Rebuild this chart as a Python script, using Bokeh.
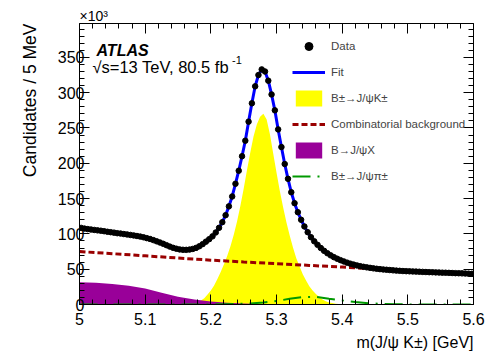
import numpy as np
from bokeh.plotting import figure
from bokeh.models import (Range1d, LinearAxis, FixedTicker, NumeralTickFormatter,
                          Label, Legend, LegendItem, Title)
from bokeh.embed import file_html
from bokeh.resources import INLINE

# ---------------- data (counts in units of 10^3 per 5 MeV) ----------------
mass_lo, mass_hi = 5.0, 5.6
bin_width = 0.005
data_counts = [
    108.5, 107.5, 106.8, 106.2, 105.6, 105.0, 104.5, 103.8, 103.0, 102.4,
    101.8, 101.0, 100.5, 99.8, 99.2, 98.5, 97.8, 97.0, 96.2, 95.2,
    94.0, 92.8, 91.2, 89.5, 87.8, 86.0, 84.0, 82.0, 80.3, 79.0,
    78.0, 77.5, 77.4, 77.8, 78.7, 80.2, 82.5, 85.5, 89.0, 92.5,
    96.5, 102.0, 108.6, 116.6, 126.5, 139.0, 153.0, 171.0, 189.5, 210.0,
    232.0, 259.0, 285.0, 309.0, 325.0, 333.0, 330.0, 317.0, 297.5, 275.0,
    248.0, 223.0, 199.0, 178.0, 159.0, 143.5, 130.7, 120.0, 110.5, 102.4,
    95.3, 89.5, 84.5, 80.0, 76.0, 72.6, 69.6, 67.0, 64.8, 62.8,
    61.0, 59.3, 57.8, 56.5, 55.3, 54.3, 53.4, 52.6, 51.9, 51.2,
    50.6, 50.1, 49.6, 49.2, 48.8, 48.4, 48.0, 47.7, 47.4, 47.2,
    47.0, 46.8, 46.6, 46.4, 46.2, 46.0, 45.8, 45.7, 45.5, 45.3,
    45.1, 45.0, 44.8, 44.6, 44.4, 44.3, 44.1, 43.9, 43.7, 43.5,
]
bin_centers = mass_lo + bin_width * (np.arange(len(data_counts)) + 0.5)

signal_mass = [5.170, 5.175, 5.180, 5.185, 5.190, 5.195, 5.200, 5.205, 5.210, 5.215,
               5.220, 5.225, 5.230, 5.235, 5.240, 5.245, 5.250, 5.255, 5.260, 5.265,
               5.270, 5.275, 5.280, 5.285, 5.290, 5.295, 5.300, 5.305, 5.310, 5.315,
               5.320, 5.325, 5.330, 5.335, 5.340, 5.345, 5.350, 5.355, 5.360, 5.365,
               5.370, 5.375, 5.380, 5.385, 5.390, 5.395, 5.400, 5.405]
signal_vals = [0.0, 1.0, 3.0, 5.5, 9.0, 14.0, 20.0, 27.0, 36.0, 46.0,
               57.0, 69.0, 83.0, 99.0, 118.0, 140.0, 164.0, 190.0, 215.0, 238.0,
               255.0, 266.0, 270.0, 262.0, 241.0, 214.0, 187.0, 161.0, 138.0, 117.0,
               98.0, 81.0, 66.0, 54.0, 43.0, 34.0, 26.0, 20.0, 15.0, 10.5,
               7.0, 4.5, 3.0, 2.0, 1.2, 0.6, 0.2, 0.0]

comb_mass = [5.00, 5.05, 5.10, 5.15, 5.20, 5.25, 5.30, 5.35, 5.40, 5.45, 5.50, 5.55, 5.60]
comb_vals = [75.0, 72.0, 68.9, 65.8, 62.8, 60.2, 57.8, 55.4, 53.0, 50.6, 47.8, 45.4, 43.4]

bx_mass = [5.000, 5.025, 5.050, 5.075, 5.100, 5.125, 5.150, 5.175, 5.200, 5.225,
           5.250, 5.275, 5.300, 5.350, 5.400, 5.500, 5.600]
bx_vals = [31.5, 30.8, 29.2, 26.5, 22.5, 16.5, 11.0, 7.0, 4.3, 2.6,
           1.4, 0.7, 0.35, 0.1, 0.05, 0.0, 0.0]

pi_mass = [5.00, 5.10, 5.18, 5.20, 5.22, 5.24, 5.26, 5.28, 5.30, 5.32, 5.34,
           5.36, 5.38, 5.40, 5.42, 5.44, 5.46, 5.48, 5.50, 5.55, 5.60]
pi_vals = [0.0, 0.0, 0.05, 0.15, 0.4, 0.8, 1.5, 2.8, 5.0, 8.0, 10.5,
           10.8, 8.0, 5.8, 3.4, 1.8, 0.9, 0.4, 0.15, 0.02, 0.0]

legend_labels = ["Data", "Fit", "B±→J/ψK±", "Combinatorial background", "B→J/ψX", "B±→J/ψπ±"]

x_major_ticks = [5.0, 5.1, 5.2, 5.3, 5.4, 5.5, 5.6]
x_minor_ticks = [round(5.0 + 0.02 * i, 2) for i in range(31)]
y_major_ticks = [0, 50, 100, 150, 200, 250, 300, 350]
y_minor_ticks = [10 * i for i in range(40)]

# ---------------- figure ----------------
FONT = "Liberation Sans"
p = figure(width=498, height=362, x_range=Range1d(mass_lo, mass_hi), y_range=Range1d(0, 398),
           output_backend="svg", toolbar_location=None, title=None,
           min_border_left=79, min_border_right=25, min_border_top=23, min_border_bottom=58)
p.grid.visible = False
p.outline_line_color = None
p.background_fill_color = "white"
p.border_fill_color = "white"

r_sig = p.varea(x=signal_mass, y1=0, y2=signal_vals, fill_color="#ffff00")
r_bx = p.varea(x=bx_mass, y1=0, y2=bx_vals, fill_color="#990099")
r_pi = p.line(pi_mass, pi_vals, line_color="#009900", line_width=2, line_dash="18 7 2 7")
r_comb = p.line(comb_mass, comb_vals, line_color="#990000", line_width=3, line_dash="6 3")
r_fit = p.line(bin_centers, data_counts, line_color="#0000ff", line_width=3)
r_data = p.scatter(bin_centers, data_counts, size=5.5, marker="circle",
                   fill_color="black", line_color="black")

def style_axis(ax, show_labels=True):
    ax.axis_line_color = "black"
    ax.axis_line_width = 1
    ax.major_tick_in = 10
    ax.major_tick_out = 0
    ax.minor_tick_in = 5
    ax.minor_tick_out = 0
    ax.major_tick_line_color = "black"
    ax.minor_tick_line_color = "black"
    ax.major_label_text_font = FONT
    if show_labels:
        ax.major_label_text_font_size = "16px"
        ax.major_label_text_color = "black"
    else:
        ax.major_label_text_font_size = "0px"
        ax.major_label_text_color = None
        ax.major_label_text_alpha = 0
        ax.major_label_standoff = 0

xa = p.xaxis[0]
xa.ticker = FixedTicker(ticks=x_major_ticks, minor_ticks=x_minor_ticks)
xa.formatter = NumeralTickFormatter(format="0.[0]")
style_axis(xa)
xa.major_label_standoff = 8

ya = p.yaxis[0]
ya.ticker = FixedTicker(ticks=y_major_ticks, minor_ticks=y_minor_ticks)
style_axis(ya)
ya.major_label_standoff = -5

xtop = LinearAxis(ticker=FixedTicker(ticks=x_major_ticks, minor_ticks=x_minor_ticks))
style_axis(xtop, False)
p.add_layout(xtop, "above")
yright = LinearAxis(ticker=FixedTicker(ticks=y_major_ticks, minor_ticks=y_minor_ticks))
style_axis(yright, False)
p.add_layout(yright, "right")

# axis titles as side-panel titles
p.add_layout(Title(text="Candidates / 5 MeV", align="right", vertical_align="bottom",
                   text_font=FONT, text_font_size="17.5px", text_font_style="normal",
                   text_color="black", standoff=30, offset=0), "left")
p.add_layout(Title(text="×10³", align="left", text_font=FONT, text_font_size="14px",
                   text_font_style="normal", text_color="black", standoff=0), "above")
p.add_layout(Title(text="m(J/ψ K±) [GeV]", align="right", text_font=FONT,
                   text_font_size="16px", text_font_style="normal", text_color="black",
                   standoff=8), "below")

# ---------------- legend ----------------
items = [LegendItem(label=t, renderers=[r]) for t, r in
         zip(legend_labels, [r_data, r_fit, r_sig, r_comb, r_bx, r_pi])]
leg = Legend(items=items, location=(213, 118), glyph_width=33, glyph_height=20,
             spacing=6, padding=0, margin=0, label_standoff=6,
             label_text_font=FONT, label_text_font_size="11.5px",
             border_line_alpha=0, background_fill_alpha=0)
p.add_layout(leg, "center")

# ---------------- in-frame texts (page pixel positions relative to frame) ----------------
FX0, FY0 = 79, 304

def put(text, px, py, size, align="left", style="normal"):
    p.add_layout(Label(x=px - FX0, y=FY0 - py, x_units="screen", y_units="screen",
                       text=text, text_font=FONT, text_font_size=size,
                       text_font_style=style, text_align=align,
                       text_baseline="alphabetic", text_color="black"))

put("ATLAS", 96, 50, "16px", style="bold italic")
put("√s=13 TeV, 80.5 fb", 92, 66.5, "16.5px")
put("-1", 231.5, 59.5, "11px")

open("out.html", "w").write(file_html(p, INLINE))
